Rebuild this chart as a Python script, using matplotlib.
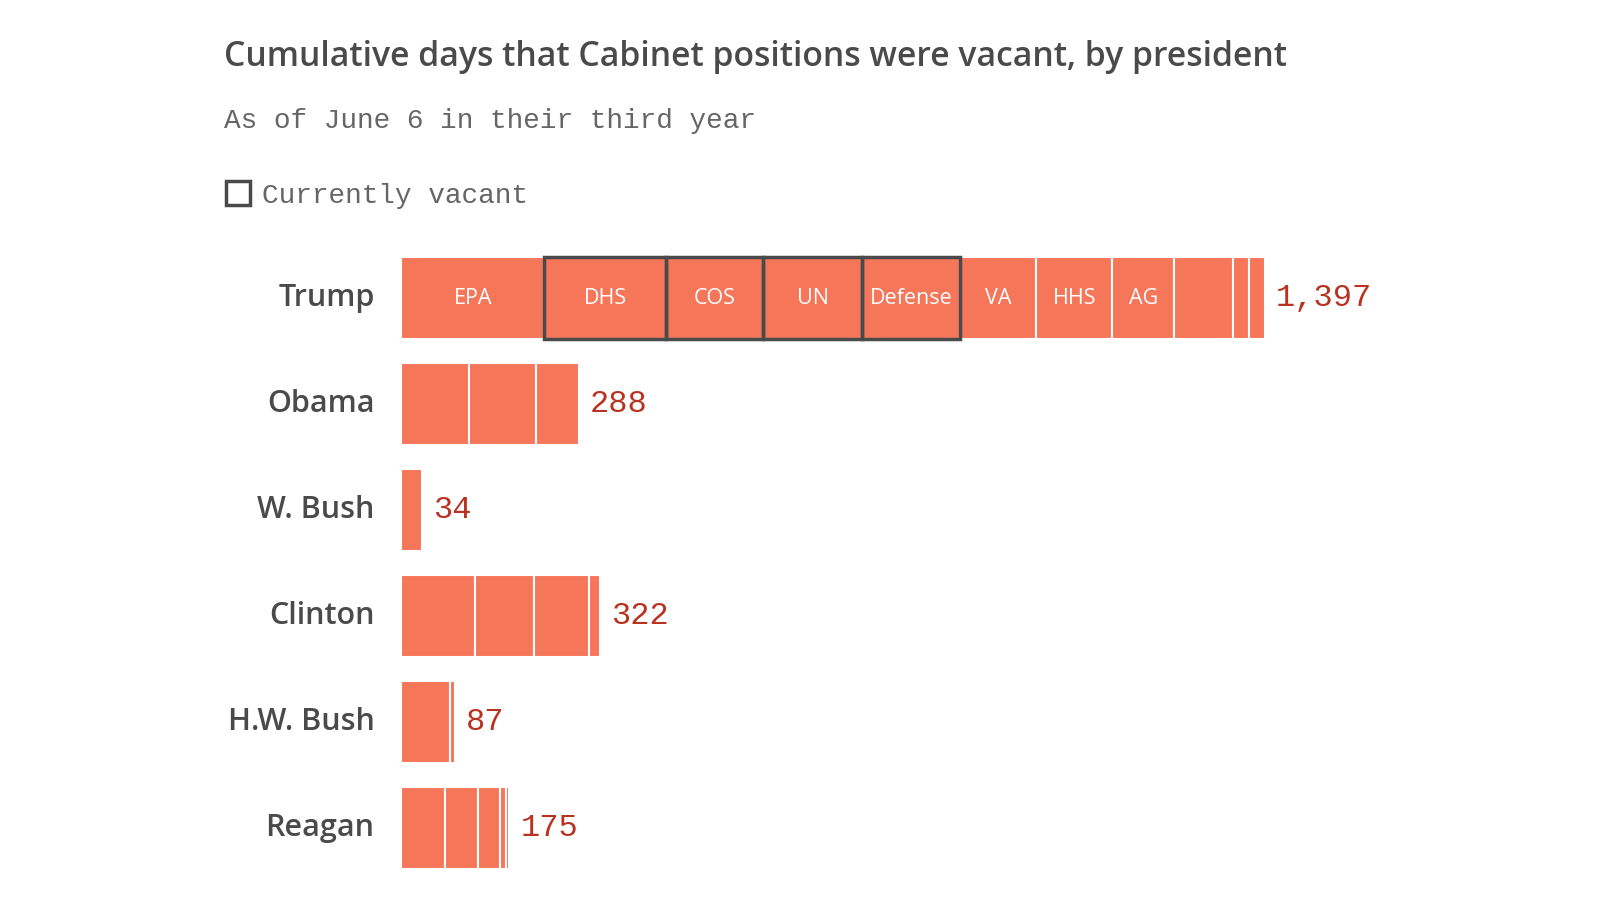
import numpy as np
import matplotlib
matplotlib.use('Agg')
from matplotlib import pyplot as plt
from matplotlib.patches import Rectangle

# data
presidents = ['Trump', 'Obama', 'W. Bush', 'Clinton', 'H.W. Bush', 'Reagan']
totals = [1397, 288, 34, 322, 87, 175]

trump_days = [232, 196, 158, 160, 158, 123, 123, 100, 95, 26, 26]
trump_labels = ['EPA', 'DHS', 'COS', 'UN', 'Defense', 'VA', 'HHS', 'AG', '', '', '']
trump_vacant = [False, True, True, True, True, False, False, False, False, False, False]
obama_days = [110, 108, 70]
wbush_days = [34]
clinton_days = [120, 95, 89, 18]
hwbush_days = [79, 8]
reagan_days = [71, 53, 36, 10, 5]

BAR = '#f6765a'
EDGE = '#4a4a4a'
TEXT = '#4a4a4a'
RED = '#b8321f'
SANS = 'Open Sans'
MONO = 'Liberation Mono'

segs = [trump_days, obama_days, wbush_days, clinton_days, hwbush_days, reagan_days]

fig = plt.figure(figsize=(16, 9), dpi=100)
ax = fig.add_axes([401 / 1600, 1 - 881 / 900, 1159 / 1600, 636 / 900])
ax.set_xlim(0, 1159 / 0.6185)
ax.set_ylim(5.5, -0.5)
ax.axis('off')

h = 0.77
for i, days in enumerate(segs):
    lefts = np.concatenate([[0], np.cumsum(days)[:-1]])
    ax.barh([i] * len(days), days, left=lefts, height=h, color=BAR,
            edgecolor='white', linewidth=1.5)
    ax.annotate(presidents[i], xy=(0, i), xytext=(-19, 0), textcoords='offset points',
                ha='right', va='center', fontsize=22, color=TEXT,
                family=SANS, fontweight='semibold')
    ax.annotate(f'{totals[i]:,}', xy=(sum(days), i), xytext=(8, 0), textcoords='offset points',
                ha='left', va='center', fontsize=23, color=RED, family=MONO)

# Trump segment labels and currently-vacant outlines
lefts = np.concatenate([[0], np.cumsum(trump_days)[:-1]])
for l, d, lab, vac in zip(lefts, trump_days, trump_labels, trump_vacant):
    if lab:
        ax.text(l + d / 2, 0, lab, ha='center', va='center', color='white',
                fontsize=15.5, family=SANS, fontweight='medium')
    if vac:
        ax.add_patch(Rectangle((l, -h / 2), d, h, fill=False, edgecolor=EDGE,
                               linewidth=2.5, zorder=5, clip_on=False))

fig.text(224 / 1600, 1 - 57 / 900, 'Cumulative days that Cabinet positions were vacant, by president',
         ha='left', va='center', fontsize=24.3, color=TEXT, family=SANS, fontweight='semibold')
fig.text(224 / 1600, 1 - 121 / 900, 'As of June 6 in their third year',
         ha='left', va='center', fontsize=20, color='#666666', family=MONO)
fig.patches.append(Rectangle((226 / 1600, 1 - 205 / 900), 24 / 1600, 24 / 900,
                             transform=fig.transFigure, fill=False, edgecolor=EDGE, linewidth=2.5))
fig.text(262 / 1600, 1 - 196 / 900, 'Currently vacant',
         ha='left', va='center', fontsize=20, color='#666666', family=MONO)

plt.savefig('out.png', dpi=100)
